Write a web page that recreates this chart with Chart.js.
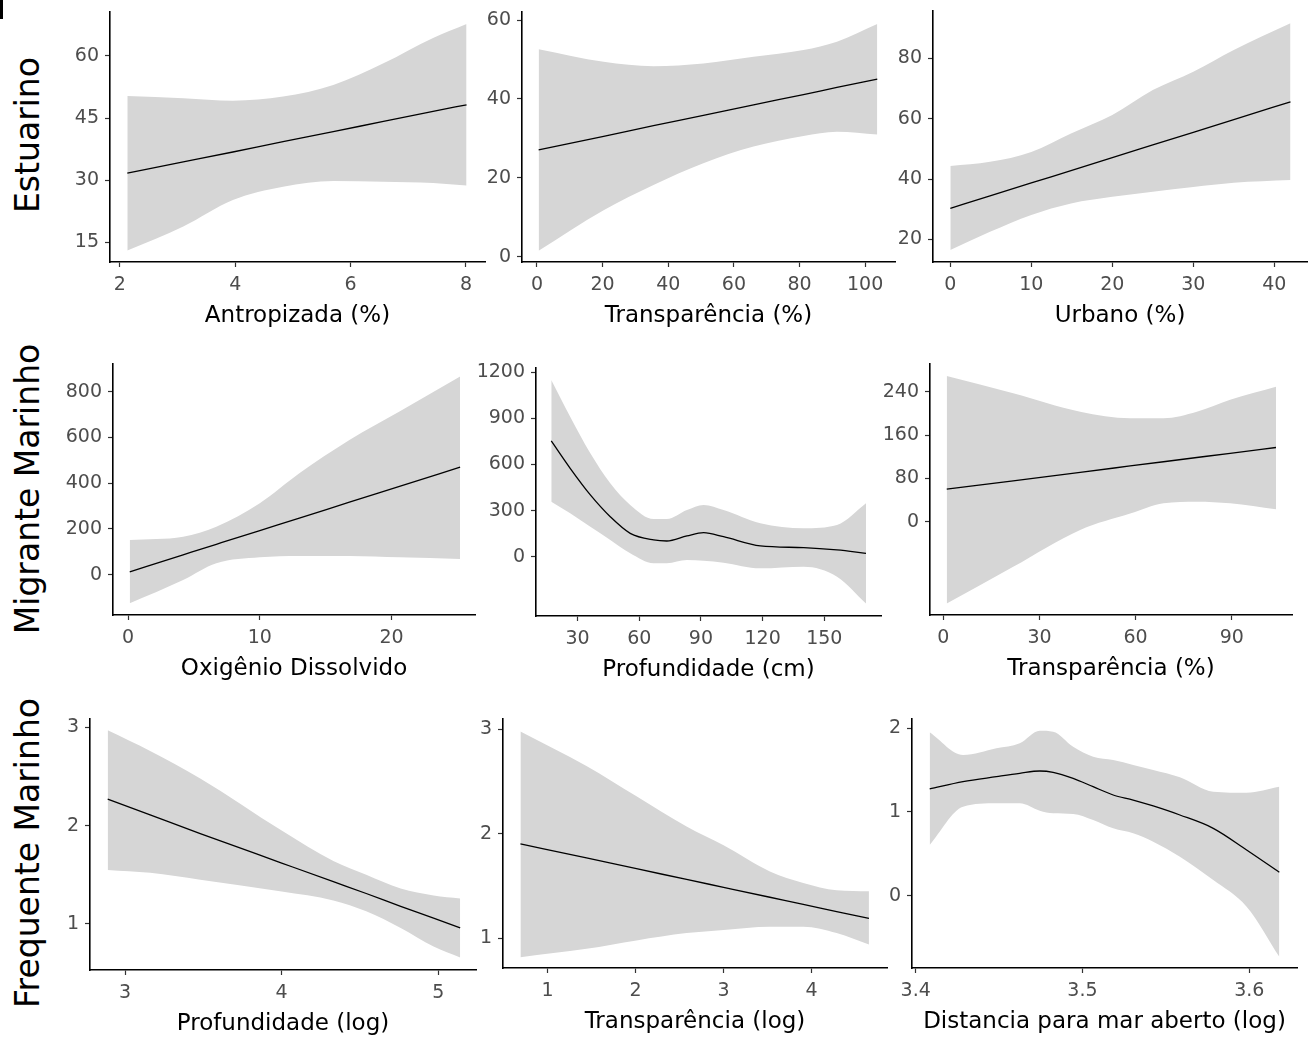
<!DOCTYPE html>
<html lang="pt">
<head>
<meta charset="UTF-8" />
<title>Efeitos parciais por guilda</title>
<script src="https://cdn.jsdelivr.net/npm/chart.js"></script>
<style>
  body { margin: 0; background: #fff; width: 1313px; height: 1039px; position: relative; overflow: hidden; font-family: "DejaVu Sans", sans-serif; }
  canvas { position: absolute; }
  .row-label { position: absolute; font-size: 33px; color: #000; white-space: nowrap; transform: translate(-50%, -50%) rotate(-90deg); }
  .corner { position: absolute; left: 0; top: 0; width: 3px; height: 19px; background: #000; }
</style>
</head>
<body>
<div class="corner"></div>
<div class="row-label" style="left:27px;top:135px">Estuarino</div>
<div class="row-label" style="left:27px;top:489px">Migrante Marinho</div>
<div class="row-label" style="left:27px;top:853px">Frequente Marinho</div>

<script>
// --- Estuarino ---
const estAntropX = [2.13, 3.10, 3.96, 4.83, 5.70, 6.57, 7.43, 8.01];
const estAntropFit = [31.7, 34.4, 36.8, 39.3, 41.7, 44.2, 46.6, 48.2];
const estAntropHi = [50.3, 49.8, 49.2, 50.2, 53.0, 58.2, 64.3, 67.7];
const estAntropLo = [13.0, 18.8, 25.2, 28.4, 29.8, 29.6, 29.3, 28.7];
const estAntropXTicks = [2, 4, 6, 8];
const estAntropYTicks = [15, 30, 45, 60];

const estTranspX = [0.5, 20.3, 35.5, 50.7, 66.0, 81.2, 91.4, 103.7];
const estTranspFit = [27.1, 30.5, 33.2, 35.8, 38.5, 41.1, 42.9, 45.0];
const estTranspHi = [52.6, 49.4, 48.3, 49.0, 50.7, 52.4, 54.5, 59.0];
const estTranspLo = [1.5, 11.8, 18.2, 23.7, 27.9, 30.6, 31.7, 31.0];
const estTranspXTicks = [0, 20, 40, 60, 80, 100];
const estTranspYTicks = [0, 20, 40, 60];

const estUrbX = [0, 4.9, 10, 14.9, 20, 25, 30, 35, 42];
const estUrbFit = [30.3, 34.4, 38.7, 42.8, 47.1, 51.3, 55.5, 59.7, 65.6];
const estUrbHi = [44.3, 45.7, 49.0, 55.1, 61.2, 69.5, 75.6, 82.8, 91.6];
const estUrbLo = [16.5, 22.5, 28.1, 31.9, 34.1, 35.8, 37.4, 38.8, 39.7];
const estUrbXTicks = [0, 10, 20, 30, 40];
const estUrbYTicks = [20, 40, 60, 80];

// --- Migrante Marinho ---
const migOxiX = [0.13, 4.18, 6.7, 10, 13, 16.8, 20.6, 25.2];
const migOxiFit = [13, 87, 133, 193, 247, 317, 386, 470];
const migOxiHi = [152, 166, 210, 312, 443, 589, 713, 866];
const migOxiLo = [-125, -23, 50, 76, 82, 82, 76, 69];
const migOxiXTicks = [0, 10, 20];
const migOxiYTicks = [0, 200, 400, 600, 800];

const migProfX = [17.2, 26.4, 36.2, 45.9, 55.6, 67.0, 73.4, 83.2, 91.3, 101, 118.9, 140, 156.2, 170.3];
const migProfFit = [753, 575, 402, 260, 152, 109, 102, 135, 156, 130, 70, 59, 44, 22];
const migProfHi = [1150, 911, 673, 478, 337, 245, 245, 304, 337, 304, 217, 185, 206, 347];
const migProfLo = [358, 282, 195, 109, 22, -43, -43, -22, -26, -39, -76, -65, -130, -304];
const migProfXTicks = [30, 60, 90, 120, 150];
const migProfYTicks = [0, 300, 600, 900, 1200];

const migTranspX = [1.06, 21.8, 42.7, 58.3, 68.7, 79.1, 89.5, 103.8];
const migTranspFit = [60, 75.5, 91.2, 102.9, 110.7, 118.5, 126.3, 137];
const migTranspHi = [269, 237, 203, 191, 191, 203, 225, 249];
const migTranspLo = [-151, -83, -15, 15, 34, 37, 34, 23];
const migTranspXTicks = [0, 30, 60, 90];
const migTranspYTicks = [0, 80, 160, 240];

// --- Frequente Marinho ---
const freqProfX = [2.889, 3.16, 3.48, 4.0, 4.33, 4.54, 4.76, 4.97, 5.14];
const freqProfFit = [2.27, 2.11, 1.92, 1.62, 1.43, 1.31, 1.18, 1.06, 0.96];
const freqProfHi = [2.97, 2.76, 2.48, 1.95, 1.64, 1.50, 1.36, 1.29, 1.26];
const freqProfLo = [1.55, 1.52, 1.45, 1.33, 1.24, 1.13, 0.96, 0.77, 0.66];
const freqProfXTicks = [3, 4, 5];
const freqProfYTicks = [1, 2, 3];

const freqTranspX = [0.693, 1.443, 2.011, 2.58, 3.0, 3.526, 3.905, 4.284, 4.651];
const freqTranspFit = [1.904, 1.769, 1.666, 1.564, 1.488, 1.393, 1.325, 1.256, 1.19];
const freqTranspHi = [2.98, 2.65, 2.36, 2.07, 1.89, 1.64, 1.53, 1.46, 1.45];
const freqTranspLo = [0.82, 0.90, 0.98, 1.05, 1.08, 1.11, 1.11, 1.05, 0.94];
const freqTranspXTicks = [1, 2, 3, 4];
const freqTranspYTicks = [1, 2, 3];

const freqDistX = [3.4084, 3.4284, 3.4484, 3.4624, 3.4744, 3.4824, 3.4944, 3.5064, 3.5184, 3.5304, 3.5424, 3.5584, 3.5784, 3.5984, 3.618];
const freqDistFit = [1.275, 1.362, 1.422, 1.462, 1.490, 1.474, 1.402, 1.302, 1.203, 1.143, 1.072, 0.964, 0.805, 0.546, 0.280];
const freqDistHi = [1.952, 1.681, 1.761, 1.821, 1.971, 1.960, 1.780, 1.661, 1.621, 1.562, 1.502, 1.415, 1.243, 1.231, 1.302];
const freqDistLo = [0.606, 1.063, 1.104, 1.104, 1.016, 0.984, 0.976, 0.904, 0.805, 0.745, 0.645, 0.466, 0.187, -0.131, -0.729];
const freqDistXTicks = [3.4, 3.5, 3.6];
const freqDistYTicks = [0, 1, 2];

// panel layout: box = [axis x, right end, top, bottom] in page px
const panels = [
  { x: estAntropX, fit: estAntropFit, hi: estAntropHi, lo: estAntropLo, xt: estAntropXTicks, yt: estAntropYTicks,
    title: "Antropizada (%)", box: [110, 485, 12, 262], xr: [1.83, 8.33], yr: [10.24, 70.6] },
  { x: estTranspX, fit: estTranspFit, hi: estTranspHi, lo: estTranspLo, xt: estTranspXTicks, yt: estTranspYTicks,
    title: "Transparência (%)", box: [522, 895, 12, 262], xr: [-4.57, 109.1], yr: [-1.35, 62.03] },
  { x: estUrbX, fit: estUrbFit, hi: estUrbHi, lo: estUrbLo, xt: estUrbXTicks, yt: estUrbYTicks,
    title: "Urbano (%)", box: [933, 1307, 11, 262], xr: [-2.14, 44.04], yr: [12.5, 95.7] },
  { x: migOxiX, fit: migOxiFit, hi: migOxiHi, lo: migOxiLo, xt: migOxiXTicks, yt: migOxiYTicks,
    title: "Oxigênio Dissolvido", box: [113, 475, 364, 615], xr: [-1.14, 26.33], yr: [-176, 921] },
  { x: migProfX, fit: migProfFit, hi: migProfHi, lo: migProfLo, xt: migProfXTicks, yt: migProfYTicks,
    title: "Profundidade (cm)", box: [536, 881, 368, 616], xr: [9.77, 177.6], yr: [-386, 1228] },
  { x: migTranspX, fit: migTranspFit, hi: migTranspHi, lo: migTranspLo, xt: migTranspXTicks, yt: migTranspYTicks,
    title: "Transparência (%)", box: [930, 1292, 364, 615], xr: [-4.16, 108.8], yr: [-172, 291] },
  { x: freqProfX, fit: freqProfFit, hi: freqProfHi, lo: freqProfLo, xt: freqProfXTicks, yt: freqProfYTicks,
    title: "Profundidade (log)", box: [90, 476, 719, 970], xr: [2.776, 5.241], yr: [0.532, 3.085] },
  { x: freqTranspX, fit: freqTranspFit, hi: freqTranspHi, lo: freqTranspLo, xt: freqTranspXTicks, yt: freqTranspYTicks,
    title: "Transparência (log)", box: [503, 887, 719, 968], xr: [0.495, 4.856], yr: [0.716, 3.099] },
  { x: freqDistX, fit: freqDistFit, hi: freqDistHi, lo: freqDistLo, xt: freqDistXTicks, yt: freqDistYTicks,
    title: "Distancia para mar aberto (log)", box: [912, 1297, 719, 968], xr: [3.3978, 3.6286], yr: [-0.864, 2.111] },
];

function axisOpts(kind, range, tickVals, title) {
  return {
    type: "linear",
    position: kind === "x" ? "bottom" : "left",
    min: range[0],
    max: range[1],
    afterBuildTicks: (s) => { s.ticks = tickVals.map((v) => ({ value: v })); },
    afterFit: (s) => {
      if (kind === "x") s.height = 75; else s.width = 70;
      s.paddingTop = s.paddingBottom = s.paddingLeft = s.paddingRight = 0;
    },
    grid: { display: true, drawOnChartArea: false, drawTicks: true, tickLength: 5, tickColor: "#333", tickWidth: 1.2 },
    border: { display: true, color: "#000", width: 1.6 },
    ticks: {
      color: "#4d4d4d",
      font: { family: "DejaVu Sans", size: 19 },
      padding: kind === "x" ? 7 : 6,
      maxRotation: 0,
      autoSkip: false,
      callback: (v) => String(v),
    },
    title: title
      ? { display: true, text: title, color: "#000", font: { family: "DejaVu Sans", size: 23 }, padding: { top: 0, bottom: 7 } }
      : { display: false },
  };
}

panels.forEach((p) => {
  const [ax, right, top, bottom] = p.box;
  const cv = document.createElement("canvas");
  cv.width = right - ax + 75;
  cv.height = bottom - top + 95;
  cv.style.left = ax - 70 + "px";
  cv.style.top = top - 20 + "px";
  document.body.appendChild(cv);

  const pts = (ys) => p.x.map((v, i) => ({ x: v, y: ys[i] }));

  new Chart(cv, {
    type: "line",
    data: {
      datasets: [
        { data: pts(p.fit), borderColor: "#000", borderWidth: 1.3, pointRadius: 0, fill: false },
        { data: pts(p.hi), borderColor: "rgba(0,0,0,0)", borderWidth: 0, backgroundColor: "#d6d6d6", pointRadius: 0, fill: "+1" },
        { data: pts(p.lo), borderColor: "rgba(0,0,0,0)", borderWidth: 0, pointRadius: 0, fill: false },
      ],
    },
    options: {
      responsive: false,
      animation: false,
      devicePixelRatio: 1,
      layout: { padding: { top: 20, right: 5, left: 0, bottom: 0 } },
      elements: { line: { cubicInterpolationMode: "monotone" } },
      plugins: { legend: { display: false }, tooltip: { enabled: false } },
      scales: {
        x: axisOpts("x", p.xr, p.xt, p.title),
        y: axisOpts("y", p.yr, p.yt, null),
      },
    },
  });
});
</script>
</body>
</html>
